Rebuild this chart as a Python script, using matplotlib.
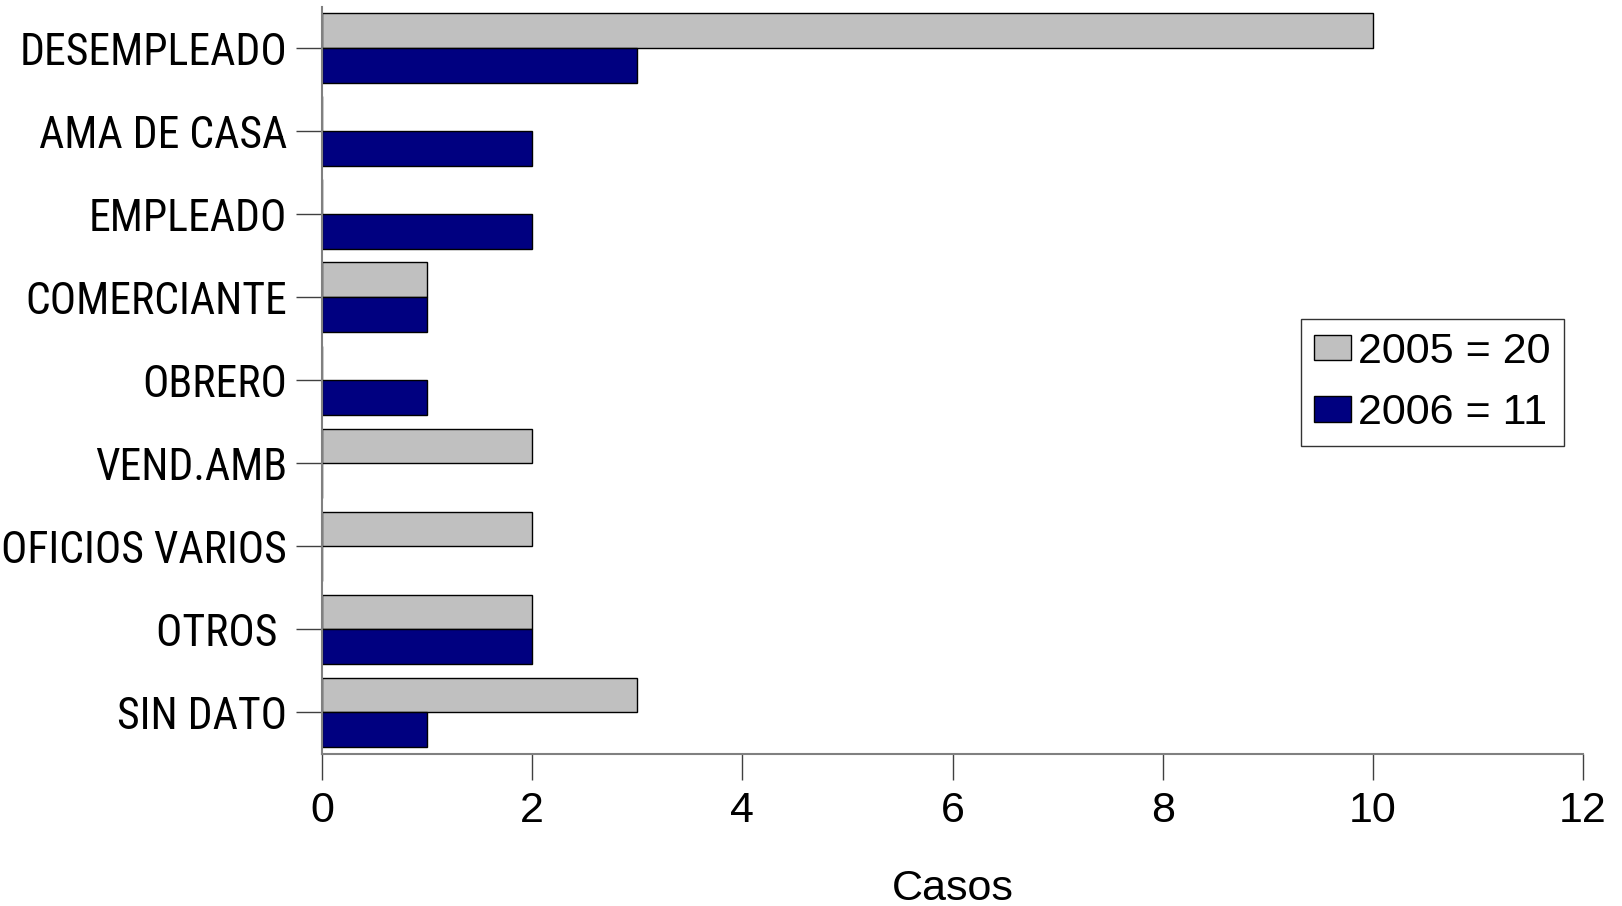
import matplotlib.pyplot as plt
import numpy as np

categorias = ['DESEMPLEADO', 'AMA DE CASA', 'EMPLEADO', 'COMERCIANTE', 'OBRERO',
              'VEND.AMB', 'OFICIOS VARIOS', 'OTROS ', 'SIN DATO']
casos_2005 = [10, 0, 0, 1, 0, 2, 2, 2, 3]
casos_2006 = [3, 2, 2, 1, 1, 0, 0, 2, 1]
etiquetas = ['2005 = 20', '2006 = 11']

plt.rcParams['font.family'] = ['Liberation Sans', 'DejaVu Sans']

fig = plt.figure(figsize=(16.22, 9.06), dpi=100)
ax = fig.add_axes([0.1985, 0.1678, 0.7775, 0.8247])

y = np.arange(len(categorias))
h = 0.42
ax.barh(y - h / 2, casos_2005, height=h, color='#C0C0C0', edgecolor='black', linewidth=1, label=etiquetas[0])
ax.barh(y + h / 2, casos_2006, height=h, color='#000080', edgecolor='black', linewidth=1, label=etiquetas[1])

ax.set_ylim(len(categorias) - 0.5, -0.5)
ax.set_xlim(0, 12)
ax.set_xticks(range(0, 13, 2))
ax.set_yticks(y)
ax.set_yticklabels(categorias, family=['Roboto Condensed', 'Liberation Sans'], fontsize=31.5)
ax.tick_params(axis='x', labelsize=31, length=19, width=1, color='#404040', pad=8, direction='out')
ax.tick_params(axis='y', length=19, width=1, color='#404040', pad=6, direction='out')
for s in ['top', 'right']:
    ax.spines[s].set_visible(False)
for s in ['left', 'bottom']:
    ax.spines[s].set_color('#808080')
    ax.spines[s].set_linewidth(1.5)
ax.set_xlabel('Casos', fontsize=31, labelpad=27)

leg = ax.legend(loc='upper left', bbox_to_anchor=(0.802, 0.648), bbox_transform=fig.transFigure,
                fontsize=31, frameon=True, fancybox=False, edgecolor='black',
                handlelength=0.86, handleheight=0.53, handletextpad=0.17, borderpad=0.3,
                labelspacing=0.5, borderaxespad=0)
leg.get_frame().set_linewidth(1)

plt.savefig('out.png', dpi=100)
